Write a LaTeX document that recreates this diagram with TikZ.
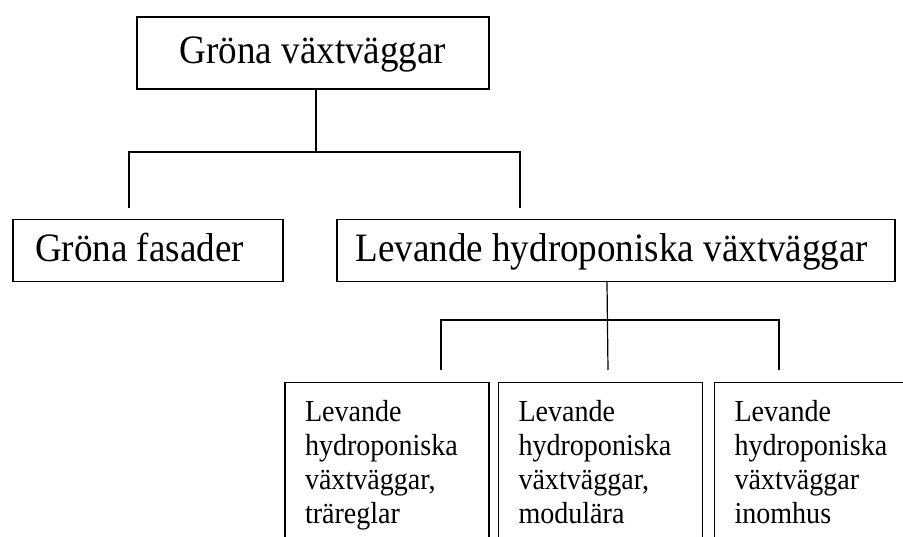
\documentclass[tikz,border=0pt]{standalone}
\usepackage{fontspec}
\setmainfont{Liberation Serif}[FakeStretch=0.92]
\begin{document}
\begin{tikzpicture}[x=1pt,y=-1pt,
    box/.style={draw,line width=1.5pt,rectangle},
    bigtext/.style={font=\fontsize{40.3}{46}\selectfont,text height=28pt,text depth=6pt},
    smalltext/.style={font=\fontsize{30.5}{34}\selectfont},
    subbox/.style={box,smalltext,anchor=north,text width=164pt,inner xsep=20pt,inner ysep=18pt},
    link/.style={line width=1.2pt}]
    \useasboundingbox (0,0) rectangle (903,537);
    \clip (0,0) rectangle (903,537);
    \node[box,bigtext,minimum width=352pt,minimum height=72pt,inner sep=0pt] (top) at (313,53) {Gröna växtväggar};
    \node[box,bigtext,inner xsep=22pt,inner ysep=0pt,minimum height=62pt] (fas) at (148,250.5) {\makebox[226pt][l]{Gröna fasader}};
    \node[box,bigtext,inner xsep=18.5pt,inner ysep=0pt,minimum height=62pt] (lev) at (616,250.5) {\makebox[521pt][l]{Levande hydroponiska växtväggar}};
    \node[subbox] (tra) at (387,382) {Levande\\hydroponiska\\växtväggar,\\träreglar};
    \node[subbox] (mod) at (600.5,382) {Levande\\hydroponiska\\växtväggar,\\modulära};
    \node[subbox] (inom) at (816.5,382) {Levande\\hydroponiska\\växtväggar\\inomhus};
    \coordinate (busl) at (129,152);
    \coordinate (busr) at (520,152);
    \coordinate (fasdrop) at (129,208);
    \coordinate (levdrop) at (520,208);
    \draw[link] ([xshift=3pt]top.south) -- ([xshift=3pt]top.south |- busl);
    \draw[link] (fasdrop) -- (busl) -- (busr) -- (levdrop);
    \coordinate (subl) at (441,320);
    \coordinate (subr) at (779,320);
    \coordinate (tradrop) at (441,370);
    \coordinate (moddrop) at (608,370);
    \coordinate (inomdrop) at (779,370);
    \draw[link] ([xshift=-9pt]lev.south) -- (moddrop);
    \draw[link] (tradrop) -- (subl) -- (subr) -- (inomdrop);
\end{tikzpicture}
\end{document}
